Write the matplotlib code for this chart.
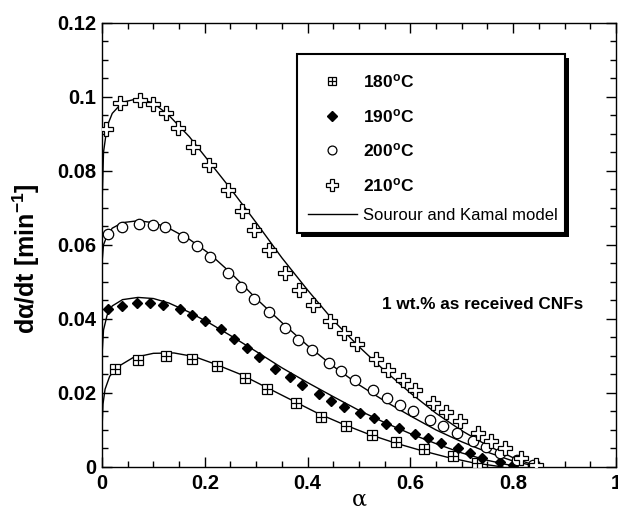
import matplotlib
matplotlib.use("Agg")
import matplotlib.pyplot as plt
from matplotlib.patches import Rectangle
from matplotlib.font_manager import FontProperties
from matplotlib.ticker import MultipleLocator, FuncFormatter

plt.rcParams['font.family'] = ['Liberation Sans', 'DejaVu Sans']
plt.rcParams['mathtext.fontset'] = 'custom'
plt.rcParams['mathtext.rm'] = 'Liberation Sans:bold'
plt.rcParams['mathtext.bf'] = 'Liberation Sans:bold'
plt.rcParams['mathtext.it'] = 'Liberation Sans:bold'
plt.rcParams['mathtext.default'] = 'bf'

x180 = [0.025, 0.071, 0.124, 0.176, 0.223, 0.278, 0.322, 0.378, 0.427, 0.475, 0.526, 0.573, 0.627, 0.682, 0.729]
y180 = [0.0264, 0.0289, 0.0300, 0.0292, 0.0274, 0.0241, 0.0210, 0.0172, 0.0134, 0.0111, 0.0086, 0.0068, 0.0048, 0.0030, 0.0012]

x190 = [0.012, 0.038, 0.068, 0.093, 0.118, 0.152, 0.176, 0.200, 0.232, 0.257, 0.283, 0.305, 0.337, 0.365,
        0.389, 0.422, 0.446, 0.471, 0.502, 0.529, 0.553, 0.577, 0.609, 0.635, 0.659, 0.693, 0.716, 0.740,
        0.774, 0.799]
y190 = [0.0427, 0.0436, 0.0442, 0.0442, 0.0438, 0.0426, 0.0411, 0.0395, 0.0373, 0.0345, 0.0321, 0.0296,
        0.0264, 0.0242, 0.0222, 0.0196, 0.0179, 0.0163, 0.0145, 0.0131, 0.0116, 0.0104, 0.0088, 0.0078,
        0.0064, 0.0051, 0.0037, 0.0025, 0.0014, 0.0005]

x200 = [0.011, 0.038, 0.073, 0.099, 0.123, 0.158, 0.184, 0.210, 0.245, 0.270, 0.296, 0.324, 0.356, 0.382,
        0.408, 0.442, 0.466, 0.492, 0.528, 0.554, 0.580, 0.606, 0.638, 0.664, 0.690, 0.722, 0.748, 0.774,
        0.807, 0.839]
y200 = [0.0630, 0.0648, 0.0657, 0.0654, 0.0647, 0.0622, 0.0597, 0.0567, 0.0523, 0.0487, 0.0453, 0.0418,
        0.0375, 0.0343, 0.0316, 0.0282, 0.0258, 0.0235, 0.0208, 0.0186, 0.0168, 0.0151, 0.0127, 0.0111,
        0.0093, 0.0070, 0.0055, 0.0037, 0.0019, 0.0005]

x210 = [0.008, 0.035, 0.074, 0.100, 0.124, 0.148, 0.178, 0.209, 0.245, 0.272, 0.296, 0.325, 0.357, 0.383,
        0.411, 0.444, 0.471, 0.497, 0.533, 0.557, 0.585, 0.609, 0.645, 0.669, 0.696, 0.732, 0.756, 0.784,
        0.816, 0.844]
y210 = [0.0912, 0.0983, 0.0992, 0.0981, 0.0956, 0.0915, 0.0865, 0.0816, 0.0749, 0.0692, 0.0640, 0.0586,
        0.0523, 0.0478, 0.0438, 0.0393, 0.0361, 0.0332, 0.0291, 0.0262, 0.0235, 0.0208, 0.0172, 0.0149,
        0.0124, 0.0091, 0.0070, 0.0050, 0.0023, 0.0005]

# ---- Sourour and Kamal model curves ----
mx180 = [0, 0.002, 0.006, 0.015, 0.03, 0.06, 0.10, 0.14, 0.18, 0.22, 0.27, 0.32, 0.37, 0.42, 0.47, 0.52,
         0.57, 0.62, 0.67, 0.72, 0.78]
my180 = [0.010, 0.017, 0.021, 0.0245, 0.0270, 0.0295, 0.0307, 0.0308, 0.0298, 0.0278, 0.0250, 0.0215,
         0.0180, 0.0145, 0.0115, 0.0088, 0.0065, 0.0045, 0.0027, 0.0012, 0.0]

mx190 = [0, 0.003, 0.01, 0.02, 0.04, 0.07, 0.10, 0.13, 0.17, 0.21, 0.25, 0.30, 0.35, 0.40, 0.45, 0.50,
         0.55, 0.60, 0.65, 0.70, 0.75, 0.81]
my190 = [0.030, 0.037, 0.041, 0.0435, 0.0452, 0.0458, 0.0455, 0.0443, 0.0418, 0.0388, 0.0355, 0.0312,
         0.0268, 0.0228, 0.0190, 0.0153, 0.0120, 0.0090, 0.0063, 0.0038, 0.0018, 0.0]

mx200 = [0, 0.003, 0.01, 0.02, 0.04, 0.07, 0.10, 0.13, 0.17, 0.21, 0.25, 0.30, 0.35, 0.40, 0.45, 0.50,
         0.55, 0.60, 0.65, 0.70, 0.75, 0.80, 0.85]
my200 = [0.055, 0.060, 0.0625, 0.0645, 0.0660, 0.0665, 0.0660, 0.0645, 0.0615, 0.0575, 0.0525, 0.0455,
         0.0390, 0.0328, 0.0272, 0.0222, 0.0178, 0.0138, 0.0100, 0.0068, 0.0040, 0.0016, 0.0]

mx210 = [0, 0.003, 0.01, 0.02, 0.04, 0.07, 0.10, 0.13, 0.17, 0.21, 0.25, 0.30, 0.35, 0.40, 0.45, 0.50,
         0.55, 0.60, 0.65, 0.70, 0.75, 0.80, 0.85]
my210 = [0.070, 0.085, 0.092, 0.0955, 0.0985, 0.0995, 0.0983, 0.0950, 0.0892, 0.0822, 0.0752, 0.0660,
         0.0565, 0.0478, 0.0396, 0.0325, 0.0260, 0.0200, 0.0145, 0.0098, 0.0058, 0.0025, 0.0]

labels = ["180$^{o}$C", "190$^{o}$C", "200$^{o}$C", "210$^{o}$C"]
model_label = "Sourour and Kamal model"
annotation = "1 wt.% as received CNFs"

fig = plt.figure(figsize=(6.18, 5.12), dpi=100)
ax = fig.add_axes([0.165, 0.0879, 0.8317, 0.8678])

lw = 1.0
for mx, my in [(mx180, my180), (mx190, my190), (mx200, my200), (mx210, my210)]:
    line_model, = ax.plot(mx, my, '-', color='black', lw=lw, zorder=2)

h180a, = ax.plot(x180, y180, 's', ms=7, mfc='white', mec='black', mew=0.9, ls='none', zorder=3)
h180b, = ax.plot(x180, y180, '+', ms=7, mec='black', mew=0.9, ls='none', zorder=4)
h190, = ax.plot(x190, y190, 'D', ms=5.5, mfc='black', mec='black', ls='none', zorder=3)
h200, = ax.plot(x200, y200, 'o', ms=7.5, mfc='white', mec='black', mew=0.9, ls='none', zorder=3)
h210, = ax.plot(x210, y210, 'P', ms=9.5, mfc='white', mec='black', mew=0.9, ls='none', zorder=3)

ax.set_xlim(0, 1)
ax.set_ylim(0, 0.12)
ax.xaxis.set_major_locator(MultipleLocator(0.2))
ax.xaxis.set_minor_locator(MultipleLocator(0.05))
ax.yaxis.set_major_locator(MultipleLocator(0.02))
ax.yaxis.set_minor_locator(MultipleLocator(0.005))
fmt = FuncFormatter(lambda v, p: ('%g' % round(v, 6)))
ax.xaxis.set_major_formatter(fmt)
ax.yaxis.set_major_formatter(fmt)
ax.tick_params(which='both', direction='in', top=True, right=True, width=1.0)
ax.tick_params(which='major', length=7, labelsize=14.5)
ax.tick_params(axis='y', which='major', pad=4)
ax.tick_params(axis='x', which='major', pad=5)
ax.tick_params(which='minor', length=4)
for t in ax.get_xticklabels() + ax.get_yticklabels():
    t.set_fontweight('bold')
for s in ax.spines.values():
    s.set_linewidth(1.0)

ax.set_xlabel('α', fontsize=16, family=['DejaVu Serif'], labelpad=-3)
ax.set_ylabel('dα/dt [min$^{-1}$]', fontsize=18, fontweight='bold')
ax.yaxis.set_label_coords(-0.117, 0.468)

ax.text(0.74, 0.0438, annotation, fontsize=12.3, fontweight='bold', ha='center', va='center')

# legend frame with black drop shadow
fx0, fx1, fy0, fy1 = 0.3794, 0.9008, 0.5267, 0.9296
ax.add_patch(Rectangle((fx0 + 0.0075, fy0 - 0.009), fx1 - fx0, fy1 - fy0, transform=ax.transAxes,
                       facecolor='black', edgecolor='black', lw=0, zorder=6))
ax.add_patch(Rectangle((fx0, fy0), fx1 - fx0, fy1 - fy0, transform=ax.transAxes,
                       facecolor='white', edgecolor='black', lw=1.5, zorder=6.1))

bold_prop = FontProperties(family=['Liberation Sans', 'DejaVu Sans'], size=12.5, weight='bold')
leg1 = ax.legend([(h180a, h180b), h190, h200, h210], labels, loc='upper left',
                 bbox_to_anchor=(0.4008, 0.888), borderaxespad=0, borderpad=0, frameon=False,
                 handlelength=2.82, handletextpad=0.36, labelspacing=0.95, markerscale=0.85,
                 prop=bold_prop)
leg1.set_zorder(7)
ax.add_artist(leg1)
leg2 = ax.legend([line_model], [model_label], loc='upper left',
                 bbox_to_anchor=(0.4008, 0.583), borderaxespad=0, borderpad=0, frameon=False,
                 handlelength=2.94, handletextpad=0.36, fontsize=12)
leg2.set_zorder(7)

fig.savefig('out.png', dpi=100)
